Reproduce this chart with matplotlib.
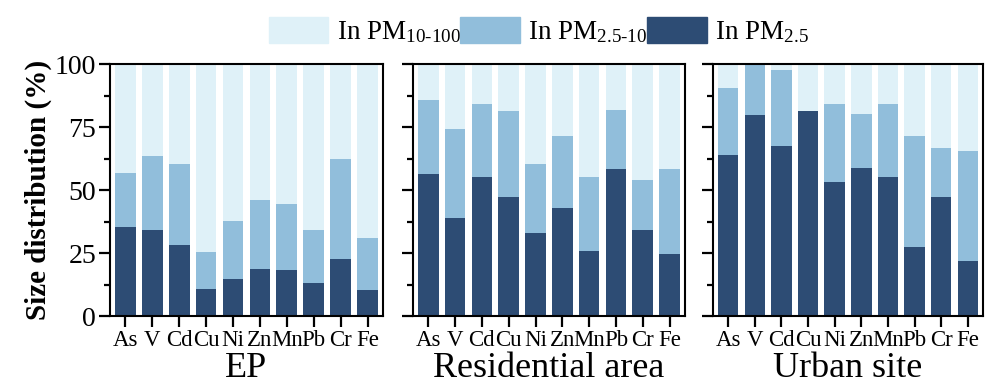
import matplotlib

matplotlib.use("Agg")
import matplotlib.pyplot as plt
import numpy as np
from matplotlib.patches import Patch
from matplotlib.ticker import MultipleLocator

plt.rcParams["font.family"] = ["Liberation Serif", "DejaVu Serif"]
plt.rcParams["mathtext.fontset"] = "custom"
plt.rcParams["mathtext.rm"] = "Liberation Serif"
plt.rcParams["mathtext.it"] = "Liberation Serif:italic"

elements = ["As", "V", "Cd", "Cu", "Ni", "Zn", "Mn", "Pb", "Cr", "Fe"]
sites = ["EP", "Residential area", "Urban site"]

# percent of each element in PM2.5, PM2.5-10, PM10-100
ep_pm25 = [35.2, 34.0, 28.1, 10.6, 14.6, 18.5, 18.1, 13.0, 22.5, 10.2]
ep_pm25_10 = [21.5, 29.4, 32.2, 14.7, 23.0, 27.5, 26.3, 21.0, 39.8, 20.7]
ep_pm10_100 = [43.3, 36.6, 39.7, 74.7, 62.4, 54.0, 55.6, 66.0, 37.7, 69.1]

res_pm25 = [56.3, 38.8, 55.1, 47.2, 32.8, 42.8, 25.7, 58.3, 34.0, 24.5]
res_pm25_10 = [29.4, 35.4, 29.0, 34.1, 27.5, 28.6, 29.4, 23.4, 19.9, 33.8]
res_pm10_100 = [14.3, 25.8, 15.9, 18.7, 39.7, 28.6, 44.9, 18.3, 46.1, 41.7]

urb_pm25 = [63.8, 79.7, 67.4, 81.3, 53.1, 58.7, 55.1, 27.3, 47.2, 21.7]
urb_pm25_10 = [26.7, 20.3, 30.2, 0.0, 31.0, 21.4, 29.0, 44.1, 19.4, 43.7]
urb_pm10_100 = [9.5, 0.0, 2.4, 18.7, 15.9, 19.9, 15.9, 28.6, 33.4, 34.6]

pm25 = [ep_pm25, res_pm25, urb_pm25]
pm25_10 = [ep_pm25_10, res_pm25_10, urb_pm25_10]
pm10_100 = [ep_pm10_100, res_pm10_100, urb_pm10_100]

c_fine = "#2d4c74"
c_mid = "#91bedb"
c_coarse = "#dff1f8"

fig = plt.figure(figsize=(9.85, 3.85), dpi=100)
lefts = [0.1117, 0.4193, 0.7239]
widths = [0.277, 0.276, 0.274]

x = np.arange(len(elements))
for i, site in enumerate(sites):
    ax = fig.add_axes([lefts[i], 0.179, widths[i], 0.6545])
    f = np.array(pm25[i])
    m = np.array(pm25_10[i])
    c = np.array(pm10_100[i])
    ax.bar(x, f, width=0.77, color=c_fine, linewidth=0)
    ax.bar(x, m, width=0.77, bottom=f, color=c_mid, linewidth=0)
    ax.bar(x, c, width=0.77, bottom=f + m, color=c_coarse, linewidth=0)

    ax.set_xlim(-0.57, 9.57)
    ax.set_ylim(0, 100)
    ax.set_xticks(x)
    ax.set_xticklabels(elements, fontsize=16.5)
    ax.yaxis.set_major_locator(MultipleLocator(25))
    ax.yaxis.set_minor_locator(MultipleLocator(12.5))
    ax.tick_params(axis="both", which="major", direction="out", length=8,
                   width=1.6, pad=2)
    ax.tick_params(axis="y", which="minor", direction="out", length=4.5, width=1.6)
    ax.tick_params(axis="y", labelsize=20)
    for s in ax.spines.values():
        s.set_linewidth(1.5)
    if i == 0:
        ax.set_ylabel("Size distribution (%)", fontsize=21, fontweight="bold",
                      labelpad=2)
    else:
        ax.set_yticklabels([])
    ax.set_xlabel(site, fontsize=26, labelpad=1)

handles = [
    Patch(color=c_coarse, label="In PM$_{\\mathrm{10\u2010100}}$"),
    Patch(color=c_mid, label="In PM$_{\\mathrm{2.5\u201010}}$"),
    Patch(color=c_fine, label="In PM$_{\\mathrm{2.5}}$"),
]
fig.legend(handles=handles, loc="upper center", bbox_to_anchor=(0.547, 1.02),
           ncol=3, frameon=False, fontsize=19.5, handlelength=2.2,
           handleheight=1.1, handletextpad=0.3, columnspacing=0.0)

fig.savefig("out.png", dpi=100)
